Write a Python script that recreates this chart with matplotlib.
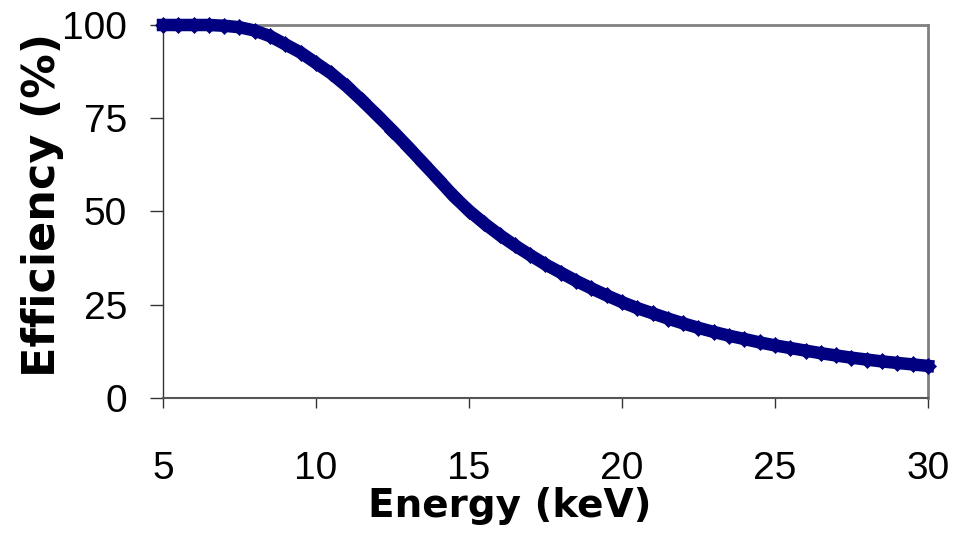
import matplotlib
matplotlib.use("Agg")
import matplotlib.pyplot as plt

# values
energy_kev = [5.0, 5.5, 6.0, 6.5, 7.0, 7.5, 8.0, 8.5, 9.0, 9.5,
              10.0, 10.5, 11.0, 11.5, 12.0, 12.5, 13.0, 13.5, 14.0, 14.5,
              15.0, 15.5, 16.0, 16.5, 17.0, 17.5, 18.0, 18.5, 19.0, 19.5,
              20.0, 20.5, 21.0, 21.5, 22.0, 22.5, 23.0, 23.5, 24.0, 24.5,
              25.0, 25.5, 26.0, 26.5, 27.0, 27.5, 28.0, 28.5, 29.0, 29.5, 30.0]
efficiency = [100.0, 100.0, 100.0, 100.0, 99.8, 99.4, 98.5, 97.0, 94.8, 92.6,
              89.8, 87.0, 83.6, 79.8, 75.8, 71.7, 67.4, 63.0, 58.6, 54.1,
              50.2, 46.8, 43.7, 40.9, 38.3, 35.8, 33.6, 31.4, 29.4, 27.5,
              25.7, 24.1, 22.7, 21.3, 20.0, 18.8, 17.7, 16.7, 15.8, 14.9,
              14.1, 13.4, 12.7, 12.0, 11.4, 10.8, 10.3, 9.8, 9.4, 9.0, 8.6]
x_ticks = [5, 10, 15, 20, 25, 30]
y_ticks = [0, 25, 50, 75, 100]

fig = plt.figure(figsize=(9.67, 5.33), dpi=100)
ax = fig.add_axes([0.16856, 0.2533, 0.7911, 0.6998])

ax.plot(energy_kev, efficiency, color="#000080", lw=9, marker="D",
        markersize=8.5, markeredgewidth=0.5, clip_on=False, zorder=3)

ax.set_xlim(5, 30)
ax.set_ylim(0, 100)
ax.set_xticks(x_ticks)
ax.set_yticks(y_ticks)

ax.tick_params(axis="x", direction="out", length=7.5, width=1, color="#333333",
               labelsize=28, pad=31)
ax.tick_params(axis="y", direction="out", length=9.5, width=1, color="#333333",
               labelsize=28, pad=16.5)
for lab in ax.get_xticklabels() + ax.get_yticklabels():
    lab.set_fontfamily("Liberation Sans")

for side in ["top", "right"]:
    ax.spines[side].set_color("#808080")
    ax.spines[side].set_linewidth(2)
ax.spines["left"].set_color("#333333")
ax.spines["left"].set_linewidth(1)
ax.spines["bottom"].set_color("#555555")
ax.spines["bottom"].set_linewidth(1.5)

fig.text(0.5274, 0.030, "Energy (keV)", fontsize=28, fontweight="bold",
         family="DejaVu Sans", ha="center", va="baseline")
fig.text(0.0569, 0.6163, "Efficiency (%)", fontsize=32, fontweight="bold",
         family="DejaVu Sans", ha="center", va="baseline", rotation=90,
         rotation_mode="anchor")

fig.savefig("out.png", dpi=100, facecolor="white")
